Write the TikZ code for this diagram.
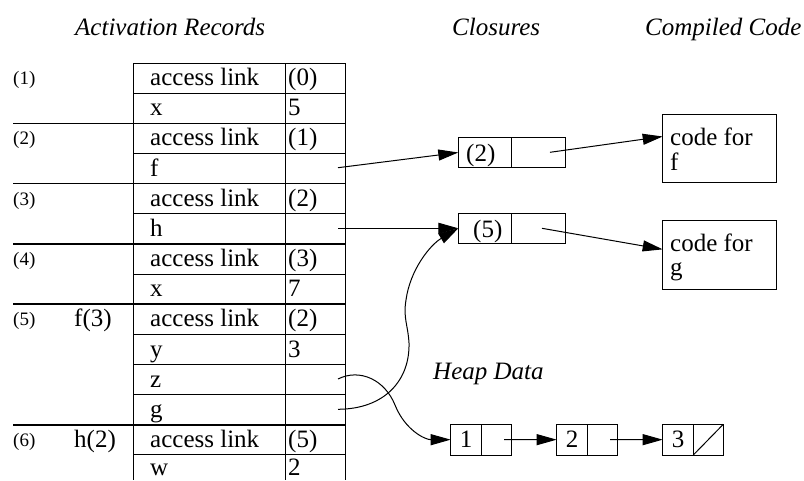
\documentclass[tikz,border=0pt]{standalone}
\usepackage{fontspec}
\setmainfont{Liberation Serif}
\usetikzlibrary{arrows.meta}
\begin{document}
\begin{tikzpicture}[x=1pt,y=-1pt,
  txt/.style={font=\fontsize{25}{25}\selectfont, anchor=base west, inner sep=0pt},
  lbl/.style={font=\fontsize{19}{19}\selectfont, anchor=base west, inner sep=0pt},
  hdr/.style={font=\fontsize{25}{25}\selectfont\itshape, anchor=base west, inner sep=0pt},
  box/.style={draw, line width=1pt, rectangle, inner sep=0pt, outer sep=0pt, anchor=north west},
  thinline/.style={line width=1pt},
  sepline/.style={line width=1.5pt},
  ptr/.style={line width=1pt, -{Triangle[length=20pt,width=11pt]}}]
\useasboundingbox (0,0) rectangle (804,480);

% headers
\node[hdr] (hAR) at (75,35) {Activation Records};
\node[hdr] (hCL) at (452,35) {Closures};
\node[hdr] (hCC) at (645,35) {Compiled Code};
\node[hdr] (hHD) at (433,379) {Heap Data};

% table lines
\foreach \i in {0,1,3,5,7,9,10,11,13}
  \draw[thinline] (133.5,{63+\i*30.15}) -- (345,{63+\i*30.15});
\foreach \i in {2,4,6,8,12}
  \draw[sepline] (13,{63+\i*30.15}) -- (345,{63+\i*30.15});
\foreach \x in {133.5,285.5,345}
  \draw[thinline] (\x,63) -- (\x,480);

% table texts
\foreach \r/\a/\b in {0/{access link}/{(0)},1/{x}/{5},2/{access link}/{(1)},3/{f}/{},
  4/{access link}/{(2)},5/{h}/{},6/{access link}/{(3)},7/{x}/{7},8/{access link}/{(2)},
  9/{y}/{3},10/{z}/{},11/{g}/{},12/{access link}/{(5)}}{
  \node[txt] (ra\r) at (150,{63+(\r+1)*30.15-7.5}) {\a};
  \node[txt] (rb\r) at (288,{63+(\r+1)*30.15-7.5}) {\b};
}
\node[txt] (ra13) at (150,475.5) {w};
\node[txt] (rb13) at (288,475.5) {2};
\foreach \r/\t in {0/(1),2/(2),4/(3),6/(4),8/(5),12/(6)}
  \node[lbl] (lb\r) at (13,{63+(\r+1)*30.15-8.5}) {\t};
\node[txt] (fcall) at (74,{63+9*30.15-7.5}) {f(3)};
\node[txt] (hcall) at (74,{63+13*30.15-7.5}) {h(2)};

% slot coordinates
\coordinate (fslot) at (338,167.7);
\coordinate (hslot) at (338,228.3);
\coordinate (zslot) at (338,379);
\coordinate (gslot) at (338,409.3);

% closures
\node[box, minimum width=53.4pt, minimum height=30.4pt] (c1l) at (458.3,137.3) {};
\node[box, minimum width=53.3pt, minimum height=30.4pt] (c1r) at (511.7,137.3) {};
\node[box, minimum width=53.4pt, minimum height=30pt] (c2l) at (458.3,213.3) {};
\node[box, minimum width=53.3pt, minimum height=30pt] (c2r) at (511.7,213.3) {};
\node[txt] (c1t) at (466,161.7) {(2)};
\node[txt] (c2t) at (473,237.5) {(5)};
\coordinate (c1p) at (550,152.3);
\coordinate (c2p) at (542,228.3);

% compiled code
\node[box, minimum width=114pt, minimum height=68.4pt] (code1) at (662.7,114.3) {};
\node[box, minimum width=114pt, minimum height=68.3pt] (code2) at (662.7,220.7) {};
\node[txt] (k1a) at (670,145) {code for};
\node[txt] (k1b) at (670,170) {f};
\node[txt] (k2a) at (670,251.7) {code for};
\node[txt] (k2b) at (670,275.5) {g};

% heap
\node[box, minimum width=31pt, minimum height=30.7pt] (h1l) at (450.7,424.3) {};
\node[box, minimum width=30pt, minimum height=30.7pt] (h1r) at (481.7,424.3) {};
\node[box, minimum width=30.6pt, minimum height=30.7pt] (h2l) at (556.7,424.3) {};
\node[box, minimum width=30pt, minimum height=30.7pt] (h2r) at (587.3,424.3) {};
\node[box, minimum width=30.6pt, minimum height=30.7pt] (h3l) at (662.7,424.3) {};
\node[box, minimum width=30pt, minimum height=30.7pt] (h3r) at (693.3,424.3) {};
\node[font=\fontsize{25}{25}\selectfont, inner sep=0pt] (h1t) at (h1l.center) {1};
\node[font=\fontsize{25}{25}\selectfont, inner sep=0pt] (h2t) at (h2l.center) {2};
\node[font=\fontsize{25}{25}\selectfont, inner sep=0pt] (h3t) at (h3l.center) {3};
\draw[thinline] (h3r.south west) -- (h3r.north east);
\coordinate (h1p) at (504,439.7);
\coordinate (h2p) at (610,439.7);

% pointers
\draw[ptr] (fslot) -- (c1l.west);
\draw[ptr] (hslot) -- (c2l.west);
\draw[ptr] (c1p) -- ([yshift=12pt]code1.west);
\draw[ptr] (c2p) -- ([yshift=5.5pt]code2.west);
\draw[ptr] (h1p) -- (h2l.west);
\draw[ptr] (h2p) -- (h3l.west);
\draw[ptr] (gslot) .. controls (385,409) and (410,380) .. (409,343)
  .. controls (408,325) and (403,318) .. (406,300)
  .. controls (410,270) and (430,245) .. (c2l.west);
\draw[ptr] (zslot) .. controls (360,368) and (385,380) .. (395,405)
  .. controls (405,430) and (425,439.7) .. (h1l.west);
\end{tikzpicture}
\end{document}
